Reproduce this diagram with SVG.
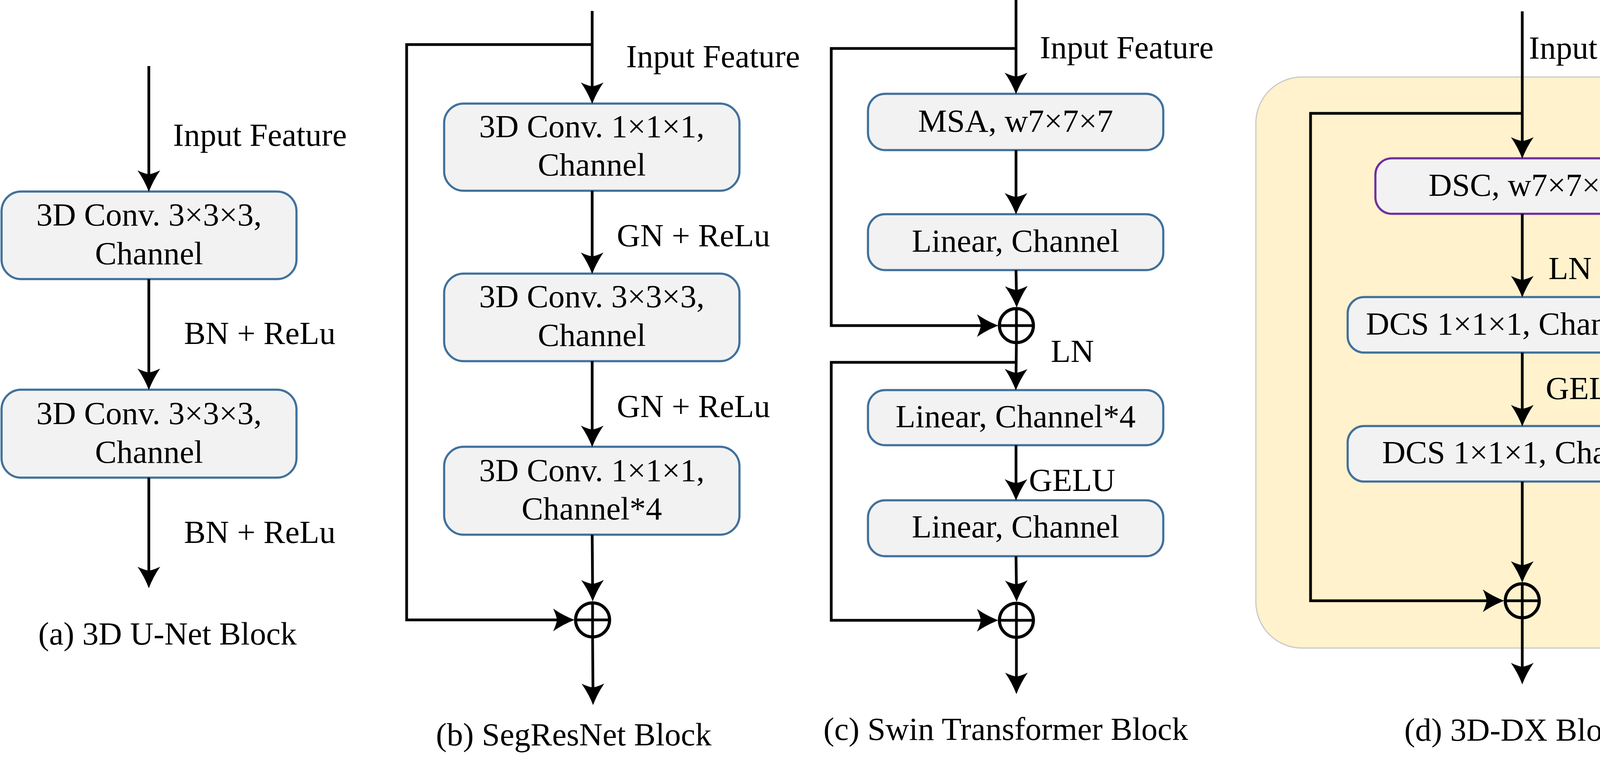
<svg xmlns="http://www.w3.org/2000/svg" width="4490" height="1970" viewBox="0 0 4490 1970">
<style>
text{font-family:"Liberation Serif","Times New Roman",serif;font-size:83px;fill:#000}
.c{text-anchor:middle}
.box{fill:#F2F2F2;stroke:#41719C;stroke-width:5.5}
.dsc{fill:#F2F2F2;stroke:#7030A0;stroke-width:5.5}
.ln{fill:none;stroke:#000;stroke-width:7;stroke-linejoin:miter;stroke-linecap:butt}
.arr{marker-end:url(#ah)}
.sum circle{fill:none;stroke:#000;stroke-width:8}
.sum path{stroke:#000;stroke-width:7;fill:none}
</style>
<defs>
<marker id="ah" markerUnits="userSpaceOnUse" viewBox="0 -30 56 60" markerWidth="56" markerHeight="60" refX="14" refY="0" orient="auto" overflow="visible">
<path d="M55,0 Q26,-11 0,-29 Q8,-12 10,0 Q8,12 0,29 Q26,11 55,0 Z" fill="#000"/>
</marker>
</defs>
<rect width="4490" height="1970" fill="#fff"/>

<g id="panel-d-bg">
<rect x="3215" y="197" width="1271" height="1461" rx="118" fill="#FFF2CC" stroke="#C9C9C9" stroke-width="3"/>
</g>

<!-- Panel a -->
<g id="a-input-label"><text x="443" y="373">Input Feature</text></g>
<g id="a-conv1"><rect class="box" x="4" y="490" width="755" height="224" rx="50"/>
<text class="c" x="381.5" y="577">3D Conv. 3×3×3,</text><text class="c" x="381.5" y="676">Channel</text></g>
<g id="a-bn1"><text x="471" y="880">BN + ReLu</text></g>
<g id="a-conv2"><rect class="box" x="4" y="997" width="755" height="225" rx="50"/>
<text class="c" x="381.5" y="1085">3D Conv. 3×3×3,</text><text class="c" x="381.5" y="1184">Channel</text></g>
<g id="a-bn2"><text x="471" y="1389">BN + ReLu</text></g>
<g id="a-caption"><text x="98" y="1649">(a) 3D U-Net Block</text></g>

<!-- Panel b -->
<g id="b-input-label"><text x="1603" y="172">Input Feature</text></g>
<g id="b-conv1"><rect class="box" x="1137" y="265" width="756" height="223" rx="50"/>
<text class="c" x="1515" y="351">3D Conv. 1×1×1,</text><text class="c" x="1515" y="449">Channel</text></g>
<g id="b-gn1"><text x="1579" y="630">GN + ReLu</text></g>
<g id="b-conv2"><rect class="box" x="1137" y="700" width="756" height="224" rx="50"/>
<text class="c" x="1515" y="786">3D Conv. 3×3×3,</text><text class="c" x="1515" y="885">Channel</text></g>
<g id="b-gn2"><text x="1579" y="1067">GN + ReLu</text></g>
<g id="b-conv3"><rect class="box" x="1137" y="1143" width="756" height="225" rx="50"/>
<text class="c" x="1515" y="1231">3D Conv. 1×1×1,</text><text class="c" x="1515" y="1329">Channel*4</text></g>
<g id="b-sum" class="sum"><circle cx="1517" cy="1586" r="43.5"/><path d="M1473,1586H1561M1517,1542V1630"/></g>
<g id="b-caption"><text x="1116" y="1907">(b) SegResNet Block</text></g>

<!-- Panel c -->
<g id="c-input-label"><text x="2662" y="149">Input Feature</text></g>
<g id="c-msa"><rect class="box" x="2222" y="240" width="756" height="144" rx="44"/>
<text class="c" x="2600" y="337">MSA, w7×7×7</text></g>
<g id="c-linear1"><rect class="box" x="2222" y="548" width="756" height="143" rx="44"/>
<text class="c" x="2600" y="644">Linear, Channel</text></g>
<g id="c-sum1" class="sum"><circle cx="2602" cy="833" r="43.5"/><path d="M2558,833H2646M2602,789V877"/></g>
<g id="c-ln"><text x="2690" y="926">LN</text></g>
<g id="c-linear2"><rect class="box" x="2222" y="998" width="756" height="141" rx="44"/>
<text class="c" x="2600" y="1093">Linear, Channel*4</text></g>
<g id="c-gelu"><text x="2634" y="1256">GELU</text></g>
<g id="c-linear3"><rect class="box" x="2222" y="1280" width="756" height="143" rx="44"/>
<text class="c" x="2600" y="1375">Linear, Channel</text></g>
<g id="c-sum2" class="sum"><circle cx="2602" cy="1587" r="43.5"/><path d="M2558,1587H2646M2602,1543V1631"/></g>
<g id="c-caption"><text x="2108" y="1893">(c) Swin Transformer Block</text></g>

<!-- Panel d -->
<g id="d-input-label"><text x="3914" y="150">Input Feature</text></g>
<g id="d-dsc"><rect class="dsc" x="3521" y="405" width="753" height="142" rx="42"/>
<text class="c" x="3897.5" y="501">DSC, w7×7×7</text></g>
<g id="d-ln"><text x="3964" y="714">LN</text></g>
<g id="d-dcs1"><rect class="box" x="3450" y="760" width="895" height="142" rx="42"/>
<text class="c" x="3897.5" y="856">DCS 1×1×1, Channel*4</text></g>
<g id="d-gelu"><text x="3957" y="1021">GELU</text></g>
<g id="d-dcs2"><rect class="box" x="3450" y="1090" width="895" height="142" rx="42"/>
<text class="c" x="3897.5" y="1185">DCS 1×1×1, Channel</text></g>
<g id="d-sum" class="sum"><circle cx="3897" cy="1537" r="43.5"/><path d="M3853,1537H3941M3897,1493V1581"/></g>
<g id="d-caption"><text x="3595" y="1895">(d) 3D-DX Block</text></g>

<g id="connectors" class="ln">
<!-- a -->
<path class="arr" d="M381,169V450"/>
<path class="arr" d="M381,714V957"/>
<path class="arr" d="M381,1222V1464"/>
<!-- b -->
<path class="arr" d="M1516,28V225"/>
<path class="arr" d="M1516,488V660"/>
<path class="arr" d="M1516,924V1103"/>
<path class="arr" d="M1516,1368L1517,1498"/>
<path class="arr" d="M1517,1630L1518,1763"/>
<path class="arr" d="M1516,114H1041V1586H1430"/>
<!-- c -->
<path class="arr" d="M2601,0V200"/>
<path class="arr" d="M2601,384V508"/>
<path class="arr" d="M2601,691L2602,746"/>
<path class="arr" d="M2601,124H2128V833H2515"/>
<path class="arr" d="M2602,877L2601,958"/>
<path class="arr" d="M2601,927H2128V1587H2515"/>
<path class="arr" d="M2601,1139V1240"/>
<path class="arr" d="M2601,1423L2602,1499"/>
<path class="arr" d="M2602,1631V1735"/>
<!-- d -->
<path class="arr" d="M3897,29V365"/>
<path class="arr" d="M3897,290H3355V1537H3810"/>
<path class="arr" d="M3897,547V720"/>
<path class="arr" d="M3897,902V1050"/>
<path class="arr" d="M3897,1232V1450"/>
<path class="arr" d="M3897,1581V1710"/>
</g>
</svg>
